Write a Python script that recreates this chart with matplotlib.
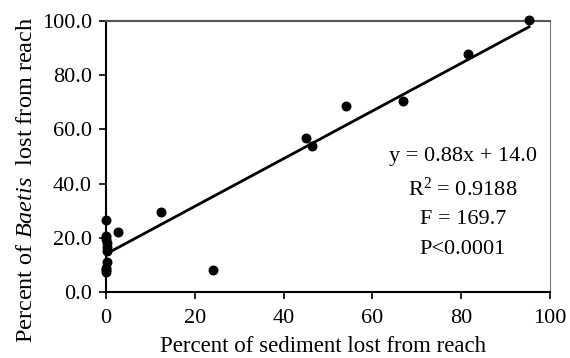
import matplotlib
matplotlib.use("Agg")
import matplotlib.pyplot as plt
import numpy as np

plt.rcParams['font.family'] = ['Liberation Serif', 'DejaVu Serif']
plt.rcParams['mathtext.fontset'] = 'custom'
plt.rcParams['mathtext.rm'] = 'Liberation Serif'
plt.rcParams['mathtext.it'] = 'Liberation Serif:italic'

sediment_lost = [0, 0, 0, 0.3, 0.3, 0.2, 0.3, 0, 0, 0, 2.8, 12.3, 24.0, 45.0, 46.5, 54.0, 67.0, 81.5, 95.3]
baetis_lost = [26.5, 20.5, 19.5, 18.0, 16.5, 15.0, 11.0, 9.0, 8.0, 7.5, 22.0, 29.5, 8.0, 57.0, 54.0, 68.5, 70.5, 88.0, 100.3]
slope = 0.88
intercept = 14.0
stats_lines = ["y = 0.88x + 14.0", "R$^2$ = 0.9188", "F = 169.7", "P<0.0001"]

W, H = 570, 358
fig = plt.figure(figsize=(5.7, 3.58), dpi=100)
ax = fig.add_axes([106 / W, 1 - 292 / H, 444 / W, 271 / H])

ax.scatter(sediment_lost, baetis_lost, s=38, color='black', zorder=3, clip_on=False)
xfit = np.array([0, max(sediment_lost)])
ax.plot(xfit, slope * xfit + intercept, color='black', lw=2, zorder=2)

ax.set_xlim(0, 100)
ax.set_ylim(0, 100)
ax.set_xticks([0, 20, 40, 60, 80, 100])
ax.set_yticks([0, 20, 40, 60, 80, 100])
ax.set_yticklabels([f"{v:.1f}" for v in [0, 20, 40, 60, 80, 100]])
ax.tick_params(direction='out', length=5, width=1.2, labelsize=16, colors='black')
ax.tick_params(axis='x', pad=7)
ax.tick_params(axis='y', pad=5)

for s in ['left', 'bottom']:
    ax.spines[s].set_linewidth(1.5)
ax.spines['top'].set_color('#555555')
ax.spines['top'].set_linewidth(1.5)
ax.spines['right'].set_color('#777777')
ax.spines['right'].set_linewidth(0.8)

ax.set_xlabel("Percent of sediment lost from reach", fontsize=16.5, va='center')
ax.xaxis.set_label_coords((323 - 106) / 444, -(347 - 292) / 271)
ax.set_ylabel("Percent of $\\mathit{Baetis}$  lost from reach", fontsize=17.5, va='center')
ax.yaxis.set_label_coords(-(106 - 27) / 444, (292 - 180) / 271)

for t, y in zip(stats_lines, [156, 189, 220, 250]):
    fig.text(463 / W, 1 - y / H, t, ha='center', va='center', fontsize=16)

fig.savefig("out.png", dpi=100)
